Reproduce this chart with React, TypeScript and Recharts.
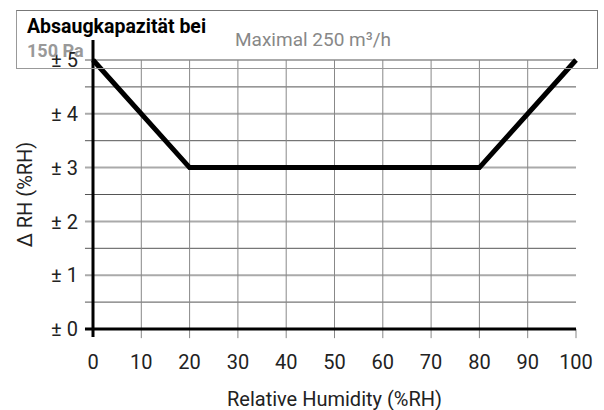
import React from 'react';
import { LineChart, Line, XAxis, YAxis, ReferenceLine } from 'recharts';

const humidity = [0, 20, 80, 100];
const deltaRH = [5, 3, 3, 5];
const xTicks = [0, 10, 20, 30, 40, 50, 60, 70, 80, 90, 100];
const xGrid = [10, 20, 30, 40, 50, 60, 70, 80, 90];
const yTicks = [0, 0.5, 1, 1.5, 2, 2.5, 3, 3.5, 4, 4.5, 5];
const yGrid = [0.5, 1, 1.5, 2, 2.5, 3, 3.5, 4, 4.5, 5];

const data = humidity.map((h, i) => ({ h, v: deltaRH[i] }));

const FONT = 'Roboto, "DejaVu Sans", sans-serif';

export default function App() {
  return (
    <div style={{ position: 'absolute', left: 0, top: 0, width: 604, height: 410, background: '#fff', fontFamily: FONT }}>
      <LineChart width={604} height={410} data={data} margin={{ top: 60, right: 28, left: 0, bottom: 0 }}>
        <XAxis
          dataKey="h"
          type="number"
          domain={[0, 100]}
          ticks={xTicks}
          axisLine={false}
          tickLine={false}
          tickSize={0}
          tickMargin={26}
          height={81}
          interval={0}
          tick={{ fill: '#222', fontSize: 20, fontFamily: FONT }}
          label={{ value: 'Relative Humidity (%RH)', position: 'insideBottom', offset: 4, fill: '#222', fontSize: 20, fontFamily: FONT }}
        />
        <YAxis
          type="number"
          domain={[0, 5]}
          ticks={yTicks}
          interval={0}
          width={93}
          axisLine={false}
          tickLine={false}
          tickSize={0}
          tickMargin={15}
          tickFormatter={(v: number) => (Number.isInteger(v) ? `± ${v}` : '')}
          tick={{ fill: '#222', fontSize: 20, fontFamily: FONT }}
          label={{
            value: 'Δ RH (%RH)',
            angle: -90,
            position: 'insideLeft',
            offset: 25,
            fill: '#222',
            fontSize: 20,
            fontFamily: FONT,
            style: { textAnchor: 'middle' },
          }}
        />
        {yGrid.map((y) => (
          <ReferenceLine
            key={'y' + y}
            ifOverflow="visible"
            segment={[{ x: -1.66, y }, { x: 100, y }]}
            stroke={Number.isInteger(y) ? '#aaa' : '#555'}
            strokeWidth={Number.isInteger(y) ? 2 : 1}
          />
        ))}
        {xGrid.map((x) => (
          <ReferenceLine
            key={'x' + x}
            ifOverflow="visible"
            segment={[{ x, y: -0.17 }, { x, y: 5 }]}
            stroke="#888"
            strokeWidth={1}
          />
        ))}
        <ReferenceLine ifOverflow="visible" segment={[{ x: 100, y: -0.17 }, { x: 100, y: 0 }]} stroke="#888" strokeWidth={1} />
        <ReferenceLine ifOverflow="visible" segment={[{ x: -1.66, y: 0 }, { x: 100, y: 0 }]} stroke="#000" strokeWidth={3} />
        <ReferenceLine ifOverflow="visible" segment={[{ x: 0, y: -0.15 }, { x: 0, y: 5.37 }]} stroke="#000" strokeWidth={3} />
        <Line
          dataKey="v"
          type="linear"
          stroke="#000"
          strokeWidth={5}
          dot={false}
          activeDot={false}
          isAnimationActive={false}
        />
      </LineChart>
      <div
        style={{
          position: 'absolute',
          left: 16,
          top: 10,
          width: 580,
          height: 57,
          borderTop: '1px solid #777',
          borderLeft: '1px solid #999',
          borderRight: '1px solid #777',
          borderBottom: '1px solid #999',
          pointerEvents: 'none',
        }}
      />
      <div style={{ position: 'absolute', left: 27, top: 17, fontSize: 19.5, fontWeight: 700, color: '#000', whiteSpace: 'nowrap', lineHeight: '20px' }}>
        Absaugkapazität bei
      </div>
      <div style={{ position: 'absolute', left: 27, top: 41, fontSize: 18, fontWeight: 700, color: '#999', whiteSpace: 'nowrap', lineHeight: '20px' }}>
        150 Pa
      </div>
      <div style={{ position: 'absolute', left: 235, top: 30, fontSize: 19, fontWeight: 400, color: '#888', whiteSpace: 'nowrap', lineHeight: '20px' }}>
        Maximal 250 m³/h
      </div>
    </div>
  );
}
